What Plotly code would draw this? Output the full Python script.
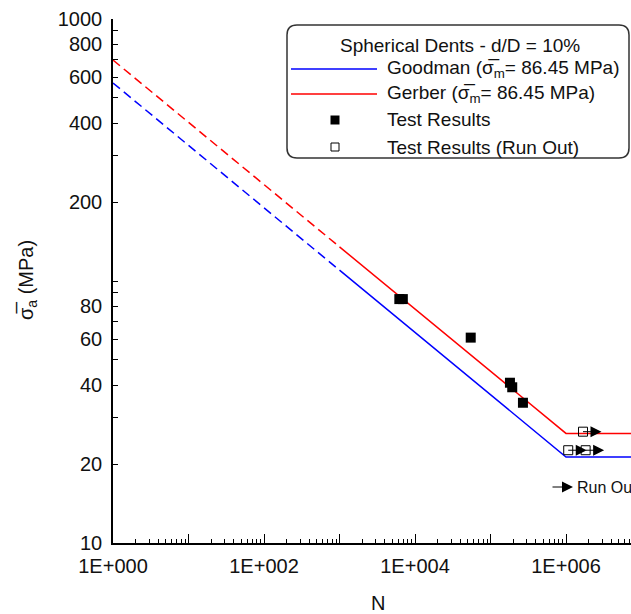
import numpy as np
import plotly.graph_objects as go

# ---------------- data ----------------
# S-N curves (N cycles, alternating stress MPa)
goodman_dash_N = [1, 1e3]
goodman_dash_S = [570, 110]
goodman_solid_N = [1e3, 1e6, 1e8]
goodman_solid_S = [110, 21.3, 21.3]

gerber_dash_N = [1, 1e3]
gerber_dash_S = [697, 135]
gerber_solid_N = [1e3, 1e6, 1e8]
gerber_solid_S = [135, 26.2, 26.2]

# test results
test_N = [6200, 6900, 54700, 181000, 194000, 269000]
test_S = [85.3, 85.3, 60.8, 40.9, 39.3, 34.3]

# run-out results
runout_N = [1.07e6, 1.68e6, 1.82e6]
runout_S = [22.6, 26.6, 22.6]

# axis ticks
x_tickvals = [1, 1e1, 1e2, 1e3, 1e4, 1e5, 1e6]
x_ticktext = ["1E+000", "", "1E+002", "", "1E+004", "", "1E+006"]
y_tickvals = [10, 20, 40, 60, 80, 100, 200, 400, 600, 800, 1000]
y_ticktext = ["10", "20", "40", "60", "80", "", "200", "400", "600", "800", "1000"]
y_minor = [30, 50, 70, 90, 300, 500, 700, 900]
y_decades = [10, 100, 1000]

legend_title = "Spherical Dents - d/D = 10%"
legend_labels = ["Goodman (σ\u0305<sub>m</sub>= 86.45 MPa)",
                 "Gerber (σ\u0305<sub>m</sub>= 86.45 MPa)",
                 "Test Results",
                 "Test Results (Run Out)"]

# ---------------- layout geometry ----------------
W, H = 631, 614
L, T, B = 113, 19, 71
R = 0
PW = W - L - R
PH = H - T - B
DEC_X = 75.5
x_max = PW / DEC_X

FONT = "Arial, Liberation Sans, sans-serif"
BLUE = "#0000ff"
RED = "#ff0000"
TXT = "#111111"


def px(x):
    return (x - L) / PW


def py(y):
    return (H - B - y) / PH


x_minor = [m * 10 ** d for d in range(0, 8) for m in range(2, 10)]

fig = go.Figure()

fig.add_trace(go.Scatter(x=goodman_dash_N, y=goodman_dash_S, mode="lines",
                         line=dict(color=BLUE, width=1.5, dash="9px,5px"), showlegend=False))
fig.add_trace(go.Scatter(x=goodman_solid_N, y=goodman_solid_S, mode="lines",
                         line=dict(color=BLUE, width=1.5), showlegend=False))
fig.add_trace(go.Scatter(x=gerber_dash_N, y=gerber_dash_S, mode="lines",
                         line=dict(color=RED, width=1.5, dash="9px,5px"), showlegend=False))
fig.add_trace(go.Scatter(x=gerber_solid_N, y=gerber_solid_S, mode="lines",
                         line=dict(color=RED, width=1.5), showlegend=False))
fig.add_trace(go.Scatter(x=test_N, y=test_S, mode="markers",
                         marker=dict(symbol="square", size=10, color="black", line=dict(width=0)),
                         showlegend=False))
fig.add_trace(go.Scatter(x=runout_N, y=runout_S, mode="markers",
                         marker=dict(symbol="square-open", size=9, color="black",
                                     line=dict(width=1, color="black")),
                         showlegend=False))

annotations = []
# run-out arrows
for n, s in zip(runout_N, runout_S):
    annotations.append(dict(x=np.log10(n), y=np.log10(s), xref="x", yref="y",
                            ax=20, ay=0, text="", showarrow=True, arrowside="start",
                            startarrowhead=2, startarrowsize=2.2, arrowwidth=1,
                            arrowcolor="black", standoff=0, startstandoff=0))

# Run Out key
annotations.append(dict(x=px(573), y=py(487), xref="paper", yref="paper",
                        ax=-22, ay=0, text="", showarrow=True,
                        arrowhead=2, arrowsize=2.2, arrowwidth=1, arrowcolor="black"))
annotations.append(dict(x=px(575), y=py(487), xref="paper", yref="paper",
                        text="Run Out", showarrow=False, xanchor="left", yanchor="middle",
                        font=dict(family=FONT, size=16, color=TXT)))

# axis titles
annotations.append(dict(x=px(378), y=py(603), xref="paper", yref="paper",
                        text="N", showarrow=False, xanchor="center", yanchor="middle",
                        font=dict(family=FONT, size=20, color=TXT)))
annotations.append(dict(x=px(27), y=py(280), xref="paper", yref="paper",
                        text="σ\u0305<sub>a</sub> (MPa)", textangle=-90, showarrow=False,
                        xanchor="center", yanchor="middle",
                        font=dict(family=FONT, size=20, color=TXT)))

# legend texts
annotations.append(dict(x=px(460), y=py(45), xref="paper", yref="paper",
                        text=legend_title, showarrow=False, xanchor="center", yanchor="middle",
                        font=dict(family=FONT, size=19, color=TXT)))
for lab, yy in zip(legend_labels, [69, 94, 120, 147]):
    annotations.append(dict(x=px(385), y=py(yy), xref="paper", yref="paper",
                            text=lab, showarrow=False, xanchor="left", yanchor="middle",
                            font=dict(family=FONT, size=19, color=TXT)))

# legend box (rounded)
x0, x1, y0, y1, r = 287, 629, 25, 158, 10
path = (f"M {px(x0 + r)},{py(y0)} L {px(x1 - r)},{py(y0)} "
        f"Q {px(x1)},{py(y0)} {px(x1)},{py(y0 + r)} "
        f"L {px(x1)},{py(y1 - r)} Q {px(x1)},{py(y1)} {px(x1 - r)},{py(y1)} "
        f"L {px(x0 + r)},{py(y1)} Q {px(x0)},{py(y1)} {px(x0)},{py(y1 - r)} "
        f"L {px(x0)},{py(y0 + r)} Q {px(x0)},{py(y0)} {px(x0 + r)},{py(y0)} Z")
shapes = [
    dict(type="path", path=path, xref="paper", yref="paper",
         line=dict(color="#333333", width=1.5), fillcolor="white", layer="below"),
    dict(type="line", xref="paper", yref="paper", x0=px(291), x1=px(377), y0=py(69), y1=py(69),
         line=dict(color=BLUE, width=1.5)),
    dict(type="line", xref="paper", yref="paper", x0=px(291), x1=px(377), y0=py(94), y1=py(94),
         line=dict(color=RED, width=1.5)),
    dict(type="rect", xref="paper", yref="paper", x0=px(330.5), x1=px(339.5),
         y0=py(115.5), y1=py(124.5), line=dict(width=0), fillcolor="black"),
    dict(type="rect", xref="paper", yref="paper", x0=px(331), x1=px(339),
         y0=py(143), y1=py(151), line=dict(width=1, color="black"), fillcolor="white"),
]

fig.update_layout(
    width=W, height=H,
    margin=dict(l=L, r=R, t=T, b=B, pad=0),
    paper_bgcolor="white", plot_bgcolor="white",
    showlegend=False,
    font=dict(family=FONT, size=20, color=TXT),
    annotations=annotations,
    shapes=shapes,
    xaxis=dict(type="log", range=[0, x_max], showline=True, linecolor="black", linewidth=1.5,
               ticks="inside", ticklen=9, tickwidth=1.2, tickcolor="black",
               tickmode="array", tickvals=x_tickvals, ticktext=x_ticktext,
               minor=dict(tickmode="array", tickvals=x_minor, ticks="inside", ticklen=4,
                          tickwidth=1.2, tickcolor="black", showgrid=False),
               showgrid=False, zeroline=False, ticklabelstandoff=4,
               tickfont=dict(family=FONT, size=20, color=TXT)),
    yaxis=dict(type="log", range=[1, 3], showline=True, linecolor="black", linewidth=1.5,
               ticks="inside", ticklen=5, tickwidth=1.2, tickcolor="black",
               tickmode="array", tickvals=y_tickvals, ticktext=y_ticktext,
               minor=dict(tickmode="array", tickvals=y_minor, ticks="inside", ticklen=5,
                          tickwidth=1.2, tickcolor="black", showgrid=False),
               showgrid=False, zeroline=False, ticklabelstandoff=5,
               tickfont=dict(family=FONT, size=20, color=TXT)),
    yaxis2=dict(type="log", range=[1, 3], overlaying="y", side="left", anchor="x",
                showline=False, ticks="inside", ticklen=10, tickwidth=1.2, tickcolor="black",
                tickmode="array", tickvals=y_decades, showticklabels=False,
                showgrid=False, zeroline=False),
)

fig.write_html("out.html")
